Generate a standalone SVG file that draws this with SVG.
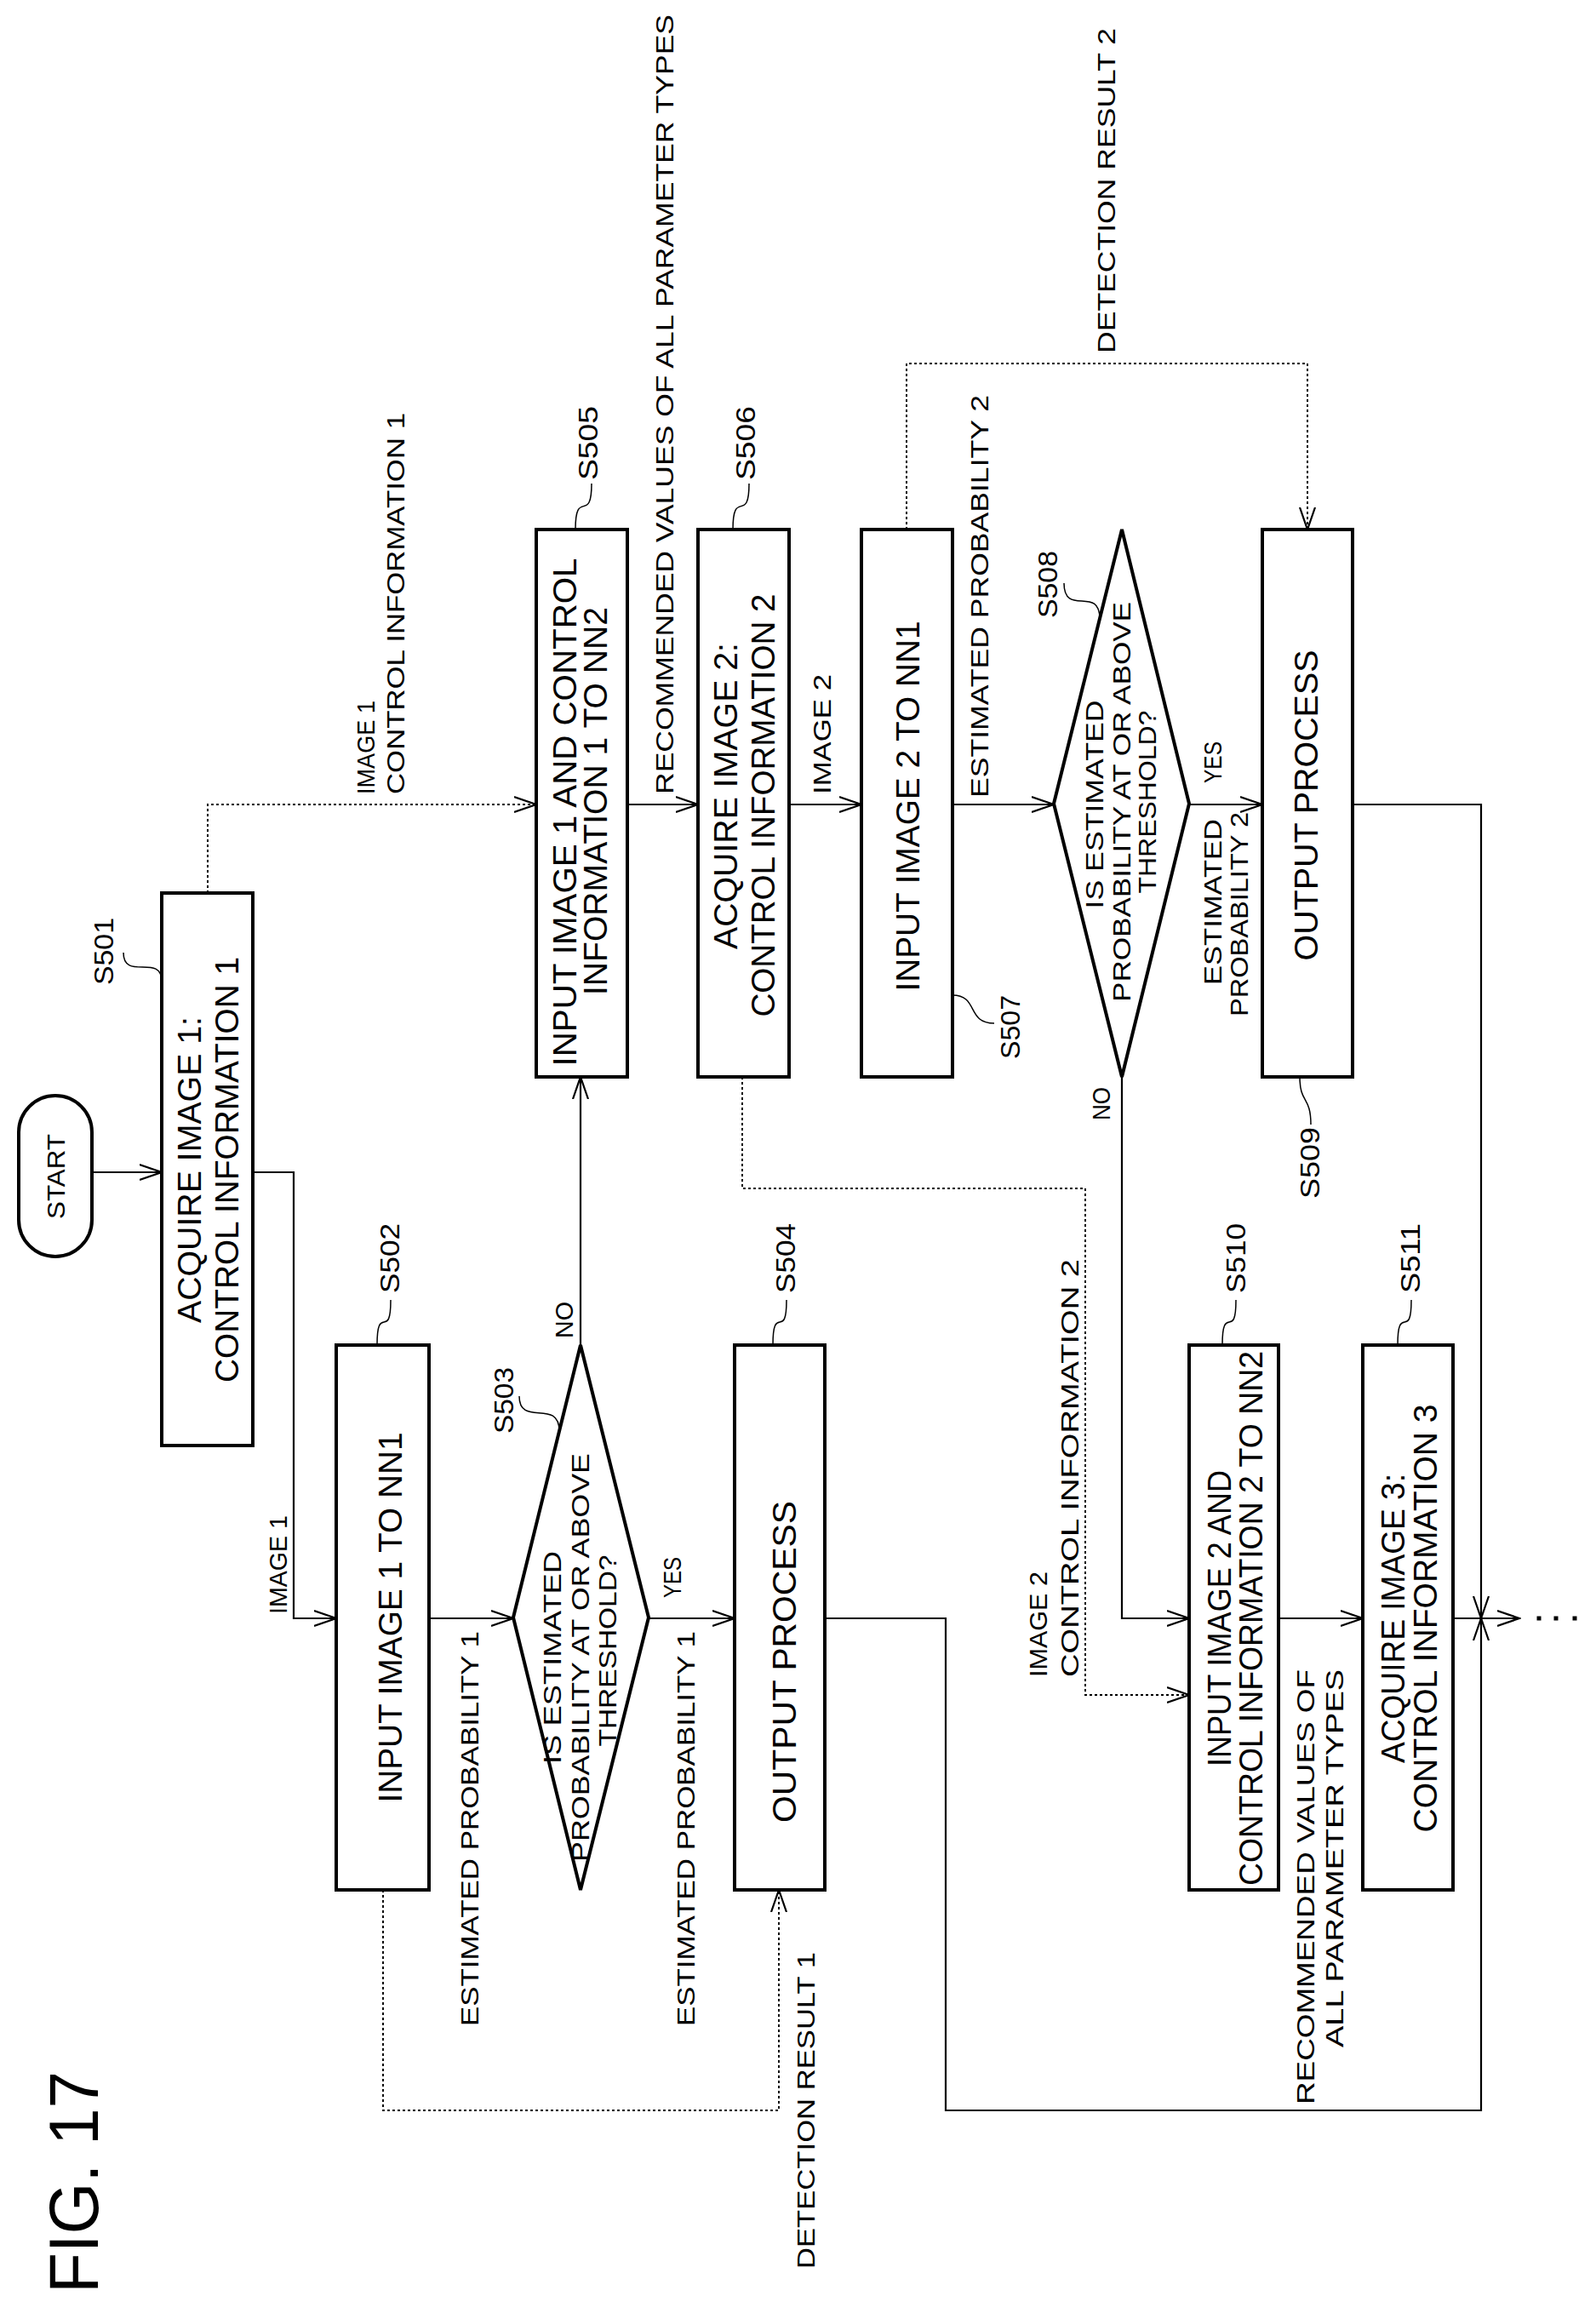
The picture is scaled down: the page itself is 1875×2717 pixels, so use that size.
<svg xmlns="http://www.w3.org/2000/svg" width="1875" height="2717" viewBox="0 0 1875 2717">
<style>
.b{fill:#fff;stroke:#000;stroke-width:4}
.c{fill:none;stroke:#000;stroke-width:2.2}
.d{fill:none;stroke:#000;stroke-width:2;stroke-dasharray:3,3}
.t{font-family:"Liberation Sans",Arial,sans-serif;fill:#000}
.bt{font-size:38px;text-anchor:middle}
.dt{font-size:30px;text-anchor:middle}
.lb{font-size:29px}
.st{font-size:32px}
.tl{fill:none;stroke:#000;stroke-width:1.5}
</style>
<defs>
<marker id="a" markerUnits="userSpaceOnUse" markerWidth="28" markerHeight="22" refX="26" refY="11" orient="auto"><path d="M0,2 L26,11 L0,20" fill="none" stroke="#000" stroke-width="2.2"/></marker>
</defs>
<rect width="1875" height="2717" fill="#fff"/>
<g transform="translate(0,2717) rotate(-90)">
<text class="t" x="23" y="115" font-size="82" textLength="261" lengthAdjust="spacingAndGlyphs">FIG. 17</text>
<g id="connectors">
<path class="c" d="M1340,108 V190" marker-end="url(#a)"/>
<path class="c" d="M1340,297 V345 H816 V395" marker-end="url(#a)"/>
<path class="c" d="M816,504 V603" marker-end="url(#a)"/>
<path class="c" d="M816,762 V863" marker-end="url(#a)"/>
<path class="c" d="M1137,682 H1452" marker-end="url(#a)"/>
<path class="d" d="M1668,244 H1772 V630" marker-end="url(#a)"/>
<path class="c" d="M1772,737 V820" marker-end="url(#a)"/>
<path class="c" d="M1772,927 V1012" marker-end="url(#a)"/>
<path class="c" d="M1772,1119 V1238" marker-end="url(#a)"/>
<path class="c" d="M1772,1397 V1483" marker-end="url(#a)"/>
<path class="d" d="M2095,1065 H2290 V1536 H2095" marker-end="url(#a)"/>
<path class="d" d="M1452,872 H1321 V1275 H726 V1397" marker-end="url(#a)"/>
<path class="c" d="M1452,1318 H816 V1397" marker-end="url(#a)"/>
<path class="c" d="M816,1502 V1601" marker-end="url(#a)"/>
<path class="d" d="M497,450 H238 V915 H497" marker-end="url(#a)"/>
<path class="c" d="M816,969 V1111 H238 V1740 H816" marker-end="url(#a)"/>
<path class="c" d="M1772,1589 V1740 H816" marker-end="url(#a)"/>
<path class="c" d="M816,1707 V1785" marker-end="url(#a)"/>
<rect x="813.5" y="1805.5" width="5" height="5"/>
<rect x="813.5" y="1825.5" width="5" height="5"/>
<rect x="813.5" y="1847.5" width="5" height="5"/>
<text class="t lb" x="821" y="337" textLength="116" lengthAdjust="spacingAndGlyphs">IMAGE 1</text>
<text class="t lb" x="337" y="562" textLength="464" lengthAdjust="spacingAndGlyphs">ESTIMATED PROBABILITY 1</text>
<text class="t lb" x="337" y="816" textLength="464" lengthAdjust="spacingAndGlyphs">ESTIMATED PROBABILITY 1</text>
<text class="t lb" x="840" y="800" textLength="48" lengthAdjust="spacingAndGlyphs">YES</text>
<text class="t lb" x="1145" y="673" textLength="43" lengthAdjust="spacingAndGlyphs">NO</text>
<text class="t lb" x="52" y="957" textLength="372" lengthAdjust="spacingAndGlyphs">DETECTION RESULT 1</text>
<text class="t lb" x="1784" y="440" textLength="110" lengthAdjust="spacingAndGlyphs">IMAGE 1</text>
<text class="t lb" x="1784" y="475" textLength="448" lengthAdjust="spacingAndGlyphs">CONTROL INFORMATION 1</text>
<text class="t lb" x="1784" y="791" textLength="916" lengthAdjust="spacingAndGlyphs">RECOMMENDED VALUES OF ALL PARAMETER TYPES</text>
<text class="t lb" x="1784" y="976" textLength="141" lengthAdjust="spacingAndGlyphs">IMAGE 2</text>
<text class="t lb" x="1780" y="1161" textLength="473" lengthAdjust="spacingAndGlyphs">ESTIMATED PROBABILITY 2</text>
<text class="t lb" x="1797" y="1435" textLength="49" lengthAdjust="spacingAndGlyphs">YES</text>
<text class="t lb" x="1560" y="1435" textLength="195" lengthAdjust="spacingAndGlyphs">ESTIMATED</text>
<text class="t lb" x="1523" y="1466" textLength="240" lengthAdjust="spacingAndGlyphs">PROBABILITY 2</text>
<text class="t lb" x="2302" y="1310" textLength="382" lengthAdjust="spacingAndGlyphs">DETECTION RESULT 2</text>
<text class="t lb" x="1401" y="1304" textLength="39" lengthAdjust="spacingAndGlyphs">NO</text>
<text class="t lb" x="747" y="1230" textLength="124" lengthAdjust="spacingAndGlyphs">IMAGE 2</text>
<text class="t lb" x="747" y="1267" textLength="491" lengthAdjust="spacingAndGlyphs">CONTROL INFORMATION 2</text>
<text class="t lb" x="245" y="1544" textLength="511" lengthAdjust="spacingAndGlyphs">RECOMMENDED VALUES OF</text>
<text class="t lb" x="312" y="1578" textLength="444" lengthAdjust="spacingAndGlyphs">ALL PARAMETER TYPES</text>
</g>
<g id="start">
<rect class="b" x="1241" y="22" width="189" height="86" rx="43"/>
<text class="t" x="1335" y="76" font-size="30" text-anchor="middle" textLength="100" lengthAdjust="spacingAndGlyphs">START</text>
</g>
<g id="S501">
<rect class="b" x="1019" y="190" width="649" height="107"/>
<text class="t bt" x="1343" y="236" textLength="360" lengthAdjust="spacingAndGlyphs">ACQUIRE IMAGE 1:</text>
<text class="t bt" x="1343" y="280" textLength="500" lengthAdjust="spacingAndGlyphs">CONTROL INFORMATION 1</text>
<text class="t st" x="1560" y="133" textLength="79" lengthAdjust="spacingAndGlyphs">S501</text>
<path class="tl" d="M1598,145 C1564,145 1598,190 1564,190"/>
</g>
<g id="S502">
<rect class="b" x="497" y="395" width="640" height="109"/>
<text class="t bt" x="817" y="472" textLength="435" lengthAdjust="spacingAndGlyphs">INPUT IMAGE 1 TO NN1</text>
<text class="t st" x="1198" y="469" textLength="82" lengthAdjust="spacingAndGlyphs">S502</text>
<path class="tl" d="M1190,459 C1140,459 1188,443 1137,443"/>
</g>
<g id="S503">
<polygon class="b" points="817,603 1137,682 817,762 497,682"/>
<text class="t dt" x="770" y="659" textLength="250" lengthAdjust="spacingAndGlyphs">IS ESTIMATED</text>
<text class="t dt" x="770" y="692" textLength="480" lengthAdjust="spacingAndGlyphs">PROBABILITY AT OR ABOVE</text>
<text class="t dt" x="778" y="724" textLength="225" lengthAdjust="spacingAndGlyphs">THRESHOLD?</text>
<text class="t st" x="1033" y="603" textLength="78" lengthAdjust="spacingAndGlyphs">S503</text>
<path class="tl" d="M1077,610 C1040,610 1075,657 1036,657"/>
</g>
<g id="S504">
<rect class="b" x="497" y="863" width="640" height="106"/>
<text class="t bt" x="765" y="935" textLength="378" lengthAdjust="spacingAndGlyphs">OUTPUT PROCESS</text>
<text class="t st" x="1198" y="934" textLength="82" lengthAdjust="spacingAndGlyphs">S504</text>
<path class="tl" d="M1190,924 C1140,924 1188,908 1137,908"/>
</g>
<g id="S505">
<rect class="b" x="1452" y="630" width="643" height="107"/>
<text class="t bt" x="1763" y="677" textLength="597" lengthAdjust="spacingAndGlyphs">INPUT IMAGE 1 AND CONTROL</text>
<text class="t bt" x="1776" y="713" textLength="456" lengthAdjust="spacingAndGlyphs">INFORMATION 1 TO NN2</text>
<text class="t st" x="2153" y="702" textLength="87" lengthAdjust="spacingAndGlyphs">S505</text>
<path class="tl" d="M2149,695 C2100,695 2145,676 2095,676"/>
</g>
<g id="S506">
<rect class="b" x="1452" y="820" width="643" height="107"/>
<text class="t bt" x="1782" y="866" textLength="360" lengthAdjust="spacingAndGlyphs">ACQUIRE IMAGE 2:</text>
<text class="t bt" x="1771" y="910" textLength="497" lengthAdjust="spacingAndGlyphs">CONTROL INFORMATION 2</text>
<text class="t st" x="2153" y="887" textLength="87" lengthAdjust="spacingAndGlyphs">S506</text>
<path class="tl" d="M2149,880 C2100,880 2145,861 2095,861"/>
</g>
<g id="S507">
<rect class="b" x="1452" y="1012" width="643" height="107"/>
<text class="t bt" x="1770" y="1080" textLength="435" lengthAdjust="spacingAndGlyphs">INPUT IMAGE 2 TO NN1</text>
<text class="t st" x="1473" y="1198" textLength="75" lengthAdjust="spacingAndGlyphs">S507</text>
<path class="tl" d="M1548,1119 C1548,1150 1515,1135 1515,1168"/>
</g>
<g id="S508">
<polygon class="b" points="1773,1238 2095,1318 1773,1397 1452,1318"/>
<text class="t dt" x="1772" y="1296" textLength="245" lengthAdjust="spacingAndGlyphs">IS ESTIMATED</text>
<text class="t dt" x="1775" y="1328" textLength="470" lengthAdjust="spacingAndGlyphs">PROBABILITY AT OR ABOVE</text>
<text class="t dt" x="1775" y="1358" textLength="215" lengthAdjust="spacingAndGlyphs">THRESHOLD?</text>
<text class="t st" x="1991" y="1242" textLength="79" lengthAdjust="spacingAndGlyphs">S508</text>
<path class="tl" d="M2032,1250 C1992,1250 2030,1292 1990,1292"/>
</g>
<g id="S509">
<rect class="b" x="1452" y="1483" width="643" height="106"/>
<text class="t bt" x="1771" y="1548" textLength="365" lengthAdjust="spacingAndGlyphs">OUTPUT PROCESS</text>
<text class="t st" x="1309" y="1550" textLength="84" lengthAdjust="spacingAndGlyphs">S509</text>
<path class="tl" d="M1452,1527 C1420,1527 1430,1540 1396,1540"/>
</g>
<g id="S510">
<rect class="b" x="497" y="1397" width="640" height="105"/>
<text class="t bt" x="816" y="1446" textLength="348" lengthAdjust="spacingAndGlyphs">INPUT IMAGE 2 AND</text>
<text class="t bt" x="816" y="1483" textLength="628" lengthAdjust="spacingAndGlyphs">CONTROL INFORMATION 2 TO NN2</text>
<text class="t st" x="1198" y="1463" textLength="82" lengthAdjust="spacingAndGlyphs">S510</text>
<path class="tl" d="M1190,1452 C1140,1452 1188,1436 1137,1436"/>
</g>
<g id="S511">
<rect class="b" x="497" y="1601" width="640" height="106"/>
<text class="t bt" x="816" y="1650" textLength="340" lengthAdjust="spacingAndGlyphs">ACQUIRE IMAGE 3:</text>
<text class="t bt" x="816" y="1688" textLength="503" lengthAdjust="spacingAndGlyphs">CONTROL INFORMATION 3</text>
<text class="t st" x="1198" y="1668" textLength="82" lengthAdjust="spacingAndGlyphs">S511</text>
<path class="tl" d="M1190,1658 C1140,1658 1188,1642 1137,1642"/>
</g>
</g>
</svg>
